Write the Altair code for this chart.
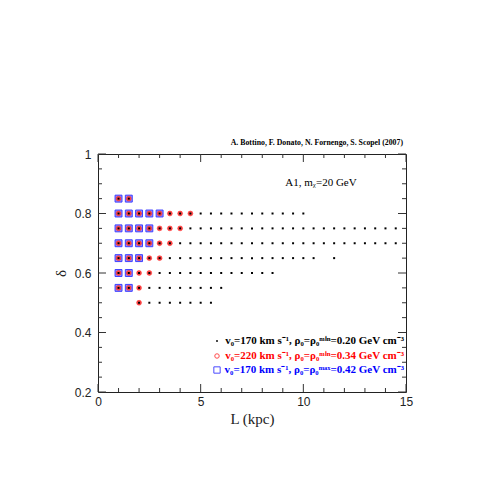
import altair as alt
import pandas as pd

# ---- data ----
delta_values = [0.85, 0.80, 0.75, 0.70, 0.65, 0.60, 0.55, 0.50]

black_L_rows = [
    [1, 1.5],
    [1, 1.5, 2, 2.5, 3, 3.5, 4, 4.5, 5, 5.5, 6, 6.5, 7, 7.5, 8, 8.5, 9, 9.5, 10],
    [1, 1.5, 2, 2.5, 3, 3.5, 4, 4.5, 5, 5.5, 6, 6.5, 7, 7.5, 8, 8.5, 9, 9.5, 10,
     10.5, 11, 11.5, 12, 12.5, 13, 13.5, 14, 14.5],
    [1, 1.5, 2, 2.5, 3, 3.5, 4, 4.5, 5, 5.5, 6, 6.5, 7, 7.5, 8, 8.5, 9, 9.5, 10,
     10.5, 11, 11.5, 12, 12.5, 13, 13.5, 14, 14.5],
    [1, 1.5, 2, 2.5, 3, 3.5, 4, 4.5, 5, 5.5, 6, 6.5, 7, 7.5, 8, 8.5, 9, 9.5, 10,
     10.5, 11.5],
    [1, 1.5, 2, 2.5, 3, 3.5, 4, 4.5, 5, 5.5, 6, 6.5, 7, 7.5, 8, 8.5],
    [1, 1.5, 2, 2.5, 3, 3.5, 4, 4.5, 5, 5.5, 6],
    [2, 2.5, 3, 3.5, 4, 4.5, 5, 5.5],
]
red_L_rows = [
    [1, 1.5],
    [1, 1.5, 2, 2.5, 3, 3.5, 4, 4.5],
    [1, 1.5, 2, 2.5, 3, 3.5, 4],
    [1, 1.5, 2, 2.5, 3, 3.5],
    [1, 1.5, 2, 2.5, 3],
    [1, 1.5, 2, 2.5],
    [1, 1.5, 2],
    [2],
]
blue_L_rows = [
    [1, 1.5],
    [1, 1.5, 2, 2.5, 3],
    [1, 1.5, 2, 2.5],
    [1, 1.5, 2, 2.5],
    [1, 1.5, 2],
    [1, 1.5],
    [1, 1.5],
    [],
]

x_major = [0, 5, 10, 15]
x_minor = [1, 2, 3, 4, 6, 7, 8, 9, 11, 12, 13, 14]
y_major = [0.2, 0.4, 0.6, 0.8, 1.0]
y_minor = [0.25, 0.3, 0.35, 0.45, 0.5, 0.55, 0.65, 0.7, 0.75, 0.85, 0.9, 0.95]

legend_labels = [
    "v\u2080=170 km s\u207b\u00b9, \u03c1\u2080=\u03c1\u2080\u1d50\u2071\u207f=0.20 GeV cm\u207b\u00b3",
    "v\u2080=220 km s\u207b\u00b9, \u03c1\u2080=\u03c1\u2080\u1d50\u2071\u207f=0.34 GeV cm\u207b\u00b3",
    "v\u2080=170 km s\u207b\u00b9, \u03c1\u2080=\u03c1\u2080\u1d50\u1d43\u02e3=0.42 GeV cm\u207b\u00b3",
]
legend_colors = ["#000000", "#ff0000", "#0000ff"]
header = "A. Bottino, F. Donato, N. Fornengo, S. Scopel (2007)"
inset = "A1, m\u1d6a=20 GeV"

W, H = 308, 238


def rows_to_df(rows):
    recs = []
    for d, Ls in zip(delta_values, rows):
        for L in Ls:
            recs.append({"L": L, "delta": d})
    return pd.DataFrame(recs, columns=["L", "delta"])


xs = alt.Scale(domain=[0, 15], nice=False, zero=False)
ys = alt.Scale(domain=[0.2, 1.0], nice=False, zero=False)

X = alt.X("L:Q", scale=xs, axis=alt.Axis(
    values=x_major, ticks=False, domain=False, grid=False,
    labelFont="Liberation Sans", labelFontSize=12, labelColor="#222",
    labelPadding=4, labelFlush=False,
    title="L (kpc)", titleFont="Liberation Serif", titleFontSize=15,
    titleFontWeight="normal", titlePadding=4, titleColor="#222"))
Y = alt.Y("delta:Q", scale=ys, axis=alt.Axis(
    values=y_major, ticks=False, domain=False, grid=False, format="~g",
    labelFont="Liberation Sans", labelFontSize=12, labelColor="#222",
    labelPadding=7, labelFlush=False,
    title="\u03b4", titleFont="Liberation Serif", titleFontSize=15,
    titleFontWeight="normal", titlePadding=6, titleColor="#222"))

blue = alt.Chart(rows_to_df(blue_L_rows)).mark_point(
    shape="square", filled=True, size=48, fill="#9090ff", stroke="#4040ff",
    strokeWidth=1, opacity=1).encode(x=X, y=Y)
red = alt.Chart(rows_to_df(red_L_rows)).mark_point(
    shape="circle", filled=True, size=24, fill="#ff4848", stroke="#ff2020",
    strokeWidth=0.5, opacity=1).encode(x=alt.X("L:Q", scale=xs), y=alt.Y("delta:Q", scale=ys))
black = alt.Chart(rows_to_df(black_L_rows)).mark_point(
    shape="square", filled=True, size=4, color="#000000", opacity=1).encode(
    x=alt.X("L:Q", scale=xs), y=alt.Y("delta:Q", scale=ys))


def tick_layers(vals, channel, length):
    df = pd.DataFrame({"v": vals})
    layers = []
    if channel == "x":
        enc_field = alt.X("v:Q", scale=xs)
        layers.append(alt.Chart(df).mark_rule(color="#333", strokeWidth=1).encode(
            x=enc_field, y=alt.value(H), y2=alt.value(H - length)))
        layers.append(alt.Chart(df).mark_rule(color="#333", strokeWidth=1).encode(
            x=enc_field, y=alt.value(0), y2=alt.value(length)))
    else:
        enc_field = alt.Y("v:Q", scale=ys)
        layers.append(alt.Chart(df).mark_rule(color="#333", strokeWidth=1).encode(
            y=enc_field, x=alt.value(0), x2=alt.value(length)))
        layers.append(alt.Chart(df).mark_rule(color="#333", strokeWidth=1).encode(
            y=enc_field, x=alt.value(W), x2=alt.value(W - length)))
    return layers


ticks = (tick_layers(x_major, "x", 8) + tick_layers(x_minor, "x", 4)
         + tick_layers(y_major, "y", 8) + tick_layers(y_minor, "y", 4))

header_layer = alt.Chart(pd.DataFrame({"t": [header]})).mark_text(
    align="right", baseline="middle", font="Liberation Serif", fontSize=7.8,
    fontWeight="bold", color="#000").encode(
    text="t:N", x=alt.value(W - 3), y=alt.value(-11))

inset_layer = alt.Chart(pd.DataFrame({"t": [inset]})).mark_text(
    align="center", baseline="middle", font="Liberation Serif", fontSize=11,
    color="#000").encode(text="t:N", x=alt.value(223), y=alt.value(29))

leg_df = pd.DataFrame({"t": legend_labels, "c": legend_colors, "i": [0, 1, 2]})
leg_ys = [187, 202, 216]
leg_layers = []
for i in range(3):
    sub = leg_df[leg_df["i"] == i]
    leg_layers.append(alt.Chart(sub).mark_text(
        align="right", baseline="middle", font="Liberation Serif", fontSize=11,
        fontWeight="bold", color=legend_colors[i]).encode(
        text="t:N", x=alt.value(W - 2), y=alt.value(leg_ys[i])))

leg_black = alt.Chart(leg_df[leg_df["i"] == 0]).mark_point(
    shape="square", filled=True, size=4, color="#000").encode(
    x=alt.value(119), y=alt.value(leg_ys[0]))
leg_red = alt.Chart(leg_df[leg_df["i"] == 1]).mark_point(
    shape="circle", filled=False, size=20, color="#ff0000", strokeWidth=1).encode(
    x=alt.value(119), y=alt.value(leg_ys[1]))
leg_blue = alt.Chart(leg_df[leg_df["i"] == 2]).mark_point(
    shape="square", filled=False, size=40, color="#0000ff", strokeWidth=1).encode(
    x=alt.value(119), y=alt.value(leg_ys[2]))

chart = alt.layer(
    blue, red, black, *ticks, header_layer, inset_layer, *leg_layers,
    leg_black, leg_red, leg_blue
).properties(
    width=W, height=H,
    autosize=alt.AutoSizeParams(type="none"),
    padding={"left": 90, "top": 146, "right": 60, "bottom": 60},
    background="white",
).configure_view(stroke="#222", strokeWidth=1)

chart.save("out.html", embed_options={"renderer": "svg", "actions": False})
